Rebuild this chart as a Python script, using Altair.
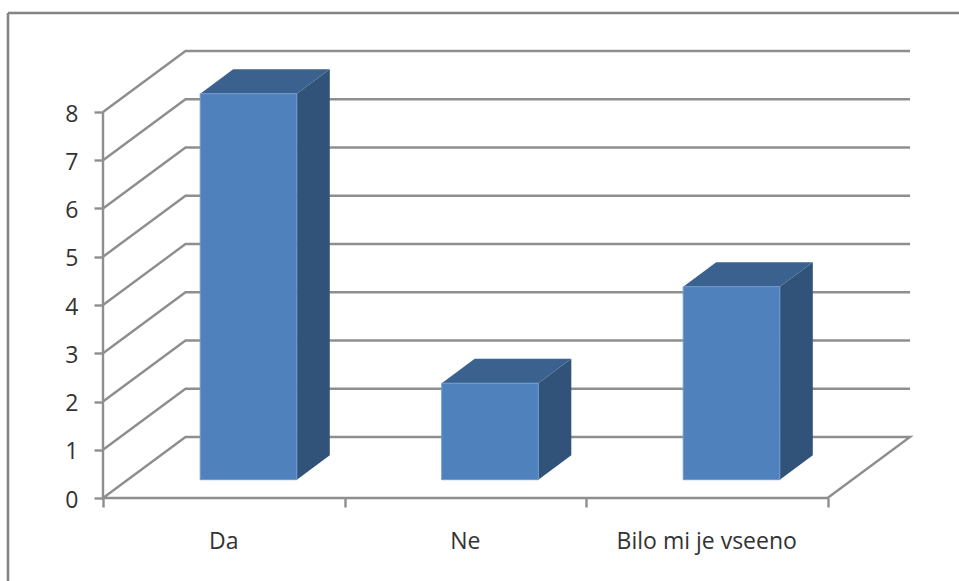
import altair as alt
import pandas as pd

categories = ["Da", "Ne", "Bilo mi je vseeno"]
values = [8, 2, 4]
value_ticks = [0, 1, 2, 3, 4, 5, 6, 7, 8]

# Oblique projection, expressed in axis units
UNIT_X, UNIT_Y = 241.5, 48.25          # pixels per category / per value
DEPTH_X, DEPTH_Y = 82.5 / UNIT_X, 61 / UNIT_Y
BAR_WIDTH = 0.4
BAR_FRONT, BAR_BACK = 0.30, 0.70       # share of the floor depth occupied by bars

GRID = "#8e8e8e"
TEXT = "#333333"
FONT = "Open Sans"

PLOT_W, PLOT_H = 808, 448
x_scale = alt.Scale(domain=[0, PLOT_W / UNIT_X], nice=False, zero=False)
y_scale = alt.Scale(domain=[0, PLOT_H / UNIT_Y], nice=False, zero=False)

x_axis = alt.Axis(
    values=list(range(len(categories) + 1)),
    domain=False,
    grid=False,
    labels=False,
    title=None,
    tickSize=9,
    tickWidth=2.4,
    tickColor=GRID,
)
y_axis = alt.Axis(
    values=value_ticks,
    domain=False,
    grid=False,
    title=None,
    tickSize=9,
    tickWidth=2.4,
    tickColor=GRID,
    labelFont=FONT,
    labelFontSize=23,
    labelColor=TEXT,
    labelPadding=16,
    labelOffset=2,
    labelOverlap=False,
)


def project(cat, val, depth):
    return cat + depth * DEPTH_X, val + depth * DEPTH_Y


# Walls: each value level runs along the side wall, then across the back wall
wall_rows = []
for level in value_ticks[1:]:
    for order, (cat, depth) in enumerate([(0, 0), (0, 1), (len(categories), 1)]):
        px, py = project(cat, level, depth)
        wall_rows.append({"level": level, "order": order, "px": px, "py": py})

# Floor outline, closed along the front edge
floor_rows = []
for order, (cat, depth) in enumerate(
    [(0, 0), (0, 1), (len(categories), 1), (len(categories), 0), (0, 0)]
):
    px, py = project(cat, 0, depth)
    floor_rows.append({"order": order, "px": px, "py": py})

# Bar faces
front_rows, side_rows, top_rows = [], [], []
for i, (name, val) in enumerate(zip(categories, values)):
    left = i + 0.5 - BAR_WIDTH / 2
    right = i + 0.5 + BAR_WIDTH / 2
    xl, y0 = project(left, 0, BAR_FRONT)
    xr, y1 = project(right, val, BAR_FRONT)
    xr_b, y0_b = project(right, 0, BAR_BACK)
    xl_b, y1_b = project(left, val, BAR_BACK)
    front_rows.append({"bar": name, "x": xl, "x2": xr, "y": y0, "y2": y1})
    side_rows += [
        {"bar": name, "x": xr, "low": y0, "high": y1},
        {"bar": name, "x": xr_b, "low": y0_b, "high": y1_b},
    ]
    top_rows += [
        {"bar": name, "x": xl, "low": y1, "high": y1},
        {"bar": name, "x": xl_b, "low": y1, "high": y1_b},
        {"bar": name, "x": xr, "low": y1, "high": y1_b},
        {"bar": name, "x": xr_b, "low": y1_b, "high": y1_b},
    ]

X = alt.X("px:Q", scale=x_scale, axis=x_axis)
Y = alt.Y("py:Q", scale=y_scale, axis=y_axis)
BAR_X = alt.X("x:Q", scale=x_scale, axis=x_axis)
BAR_LOW = alt.Y("low:Q", scale=y_scale, axis=y_axis, stack=None)

walls = alt.Chart(pd.DataFrame(wall_rows)).mark_line(
    color=GRID, strokeWidth=2.4
).encode(x=X, y=Y, detail="level:N", order="order:Q")

floor = alt.Chart(pd.DataFrame(floor_rows)).mark_line(
    color=GRID, strokeWidth=2.4
).encode(x=X, y=Y, order="order:Q")

# Vertical value axis line
value_axis = alt.Chart(
    pd.DataFrame({"px": [0], "low": [0], "high": [value_ticks[-1]]})
).mark_rule(color=GRID, strokeWidth=2.4).encode(
    x=X,
    y=alt.Y("low:Q", scale=y_scale, axis=y_axis),
    y2="high:Q",
)

front = alt.Chart(pd.DataFrame(front_rows)).mark_rect(
    color="#4f81bd", stroke="#6f9bd0", strokeWidth=1
).encode(
    x=BAR_X,
    x2="x2:Q",
    y=alt.Y("y:Q", scale=y_scale, axis=y_axis),
    y2="y2:Q",
)

side = alt.Chart(pd.DataFrame(side_rows)).mark_area(
    color="#315279", orient="vertical"
).encode(x=BAR_X, y=BAR_LOW, y2="high:Q", detail="bar:N")

top = alt.Chart(pd.DataFrame(top_rows)).mark_area(
    color="#3b628f", orient="vertical"
).encode(x=BAR_X, y=BAR_LOW, y2="high:Q", detail="bar:N")

labels = alt.Chart(
    pd.DataFrame(
        {
            "px": [i + 0.5 for i in range(len(categories))],
            "py": [0] * len(categories),
            "name": categories,
        }
    )
).mark_text(
    font=FONT, fontSize=23, color=TEXT, baseline="middle", dy=44
).encode(x=X, y=Y, text="name:N")

# Chart frame: open towards the right and bottom edges of the canvas
frame_top = alt.Chart(pd.DataFrame({"k": [0]})).mark_rule(
    color="#858585", strokeWidth=2.6
).encode(x=alt.value(-95), x2=alt.value(860), y=alt.value(-37))
frame_left = alt.Chart(pd.DataFrame({"k": [0]})).mark_rule(
    color="#858585", strokeWidth=2.6
).encode(x=alt.value(-95), y=alt.value(-37), y2=alt.value(535))

chart = (
    alt.layer(frame_top, frame_left, walls, floor, value_axis, side, top, front, labels)
    .resolve_scale(x="shared", y="shared")
    .properties(
        width=PLOT_W,
        height=PLOT_H,
        autosize=alt.AutoSizeParams(type="none"),
        padding={"left": 103, "top": 50, "right": 48, "bottom": 83},
        background="white",
    )
    .configure_view(stroke=None)
)

chart.save("out.html", embed_options={"renderer": "svg", "actions": False})
